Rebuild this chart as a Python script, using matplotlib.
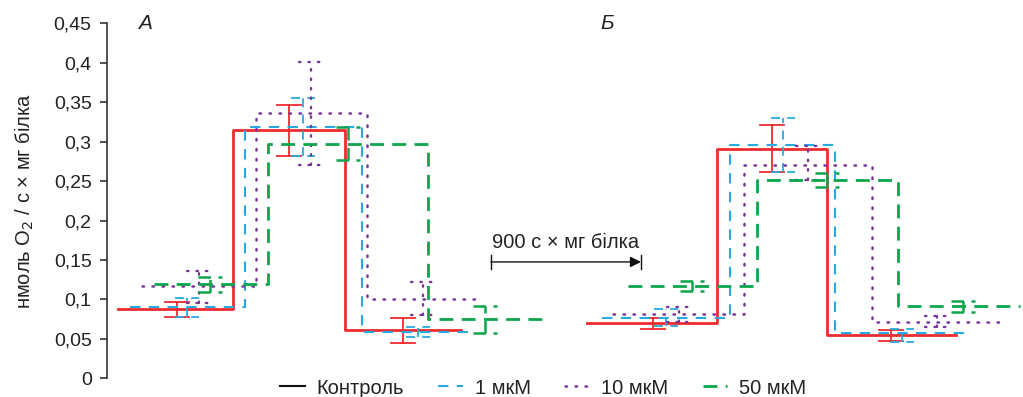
import numpy as np
import matplotlib
matplotlib.use("Agg")
import matplotlib.pyplot as plt
from matplotlib.lines import Line2D

plt.rcParams['font.family'] = ['Liberation Sans', 'DejaVu Sans']

# time, s (step points: start, rise, fall, end) and rates, nmol O2/s x mg
series = ['Контроль', '1 мкМ', '10 мкМ', '50 мкМ']

a_x = [[66, 756, 1428, 2124],
       [138, 828, 1530, 2208],
       [210, 894, 1560, 2250],
       [282, 966, 1926, 2616]]
a_y = [[0.088, 0.315, 0.061],
       [0.090, 0.319, 0.059],
       [0.117, 0.336, 0.101],
       [0.119, 0.297, 0.075]]
a_err_x = [[420, 1092, 1776],
           [480, 1176, 1866],
           [552, 1224, 1896],
           [618, 1446, 2268]]
a_err_lo = [[0.078, 0.282, 0.045],
            [0.078, 0.282, 0.052],
            [0.095, 0.270, 0.080],
            [0.109, 0.277, 0.057]]
a_err_hi = [[0.097, 0.347, 0.076],
            [0.102, 0.355, 0.065],
            [0.136, 0.401, 0.122],
            [0.129, 0.318, 0.092]]

b_x = [[2880, 3660, 4320, 5094],
       [2970, 3738, 4368, 5148],
       [3036, 3822, 4590, 5358],
       [3126, 3900, 4746, 5478]]
b_y = [[0.070, 0.291, 0.055],
       [0.077, 0.296, 0.057],
       [0.081, 0.271, 0.072],
       [0.117, 0.251, 0.092]]
b_err_x = [[3276, 3990, 4704],
           [3354, 4056, 4770],
           [3432, 4206, 4980],
           [3510, 4320, 5136]]
b_err_lo = [[0.063, 0.261, 0.047],
            [0.066, 0.262, 0.046],
            [0.071, 0.251, 0.065],
            [0.111, 0.242, 0.084]]
b_err_hi = [[0.076, 0.321, 0.061],
            [0.088, 0.330, 0.063],
            [0.091, 0.294, 0.079],
            [0.123, 0.260, 0.098]]

yticks = [0, 0.05, 0.1, 0.15, 0.2, 0.25, 0.3, 0.35, 0.4, 0.45]
scale_start, scale_len = 2304, 900

colors = ['#ee2b2e', '#27aae1', '#7a3598', '#0ca64b']
styles = [dict(ls='-', lw=2.0),
          dict(ls=(0, (5, 4)), lw=1.5),
          dict(ls=(0, (0.6, 3.4)), lw=1.8, dash_capstyle='round'),
          dict(ls=(0, (5, 3)), lw=2.0)]
err_lw = [1.3, 1.3, 1.7, 1.8]
cap = 72

fig = plt.figure(figsize=(10.23, 3.97), dpi=100)
ax = fig.add_axes([107 / 1023, 0.0471, 1 - 107 / 1023, 0.8942])


def draw_panel(xs, ys, ex, elo, ehi):
    for i in range(4):
        yy = list(ys[i]) + [ys[i][-1]]
        ax.plot(xs[i], yy, drawstyle='steps-post', color=colors[i],
                **styles[i], clip_on=False)
        st = dict(styles[i])
        st['lw'] = err_lw[i]
        for x, lo, hi in zip(ex[i], elo[i], ehi[i]):
            ax.plot([x, x], [lo, hi], color=colors[i], **st)
            ax.plot([x - cap, x + cap], [lo, lo], color=colors[i], **st)
            ax.plot([x - cap, x + cap], [hi, hi], color=colors[i], **st)


draw_panel(a_x, a_y, a_err_x, a_err_lo, a_err_hi)
draw_panel(b_x, b_y, b_err_x, b_err_lo, b_err_hi)

ax.set_xlim(0, 5496)
ax.set_ylim(0, 0.45)
ax.set_yticks(yticks)
ax.set_yticklabels([('%g' % v).replace('.', ',') for v in yticks],
                   fontsize=14, color='#222222')
ax.set_xticks([])
for s in ['top', 'right', 'bottom']:
    ax.spines[s].set_visible(False)
ax.spines['left'].set_color('#333333')
ax.spines['left'].set_linewidth(1.2)
ax.tick_params(axis='y', direction='out', length=5, width=1.2, color='#333333', pad=6)
ax.set_ylabel('нмоль O$_2$ / с × мг білка', fontsize=14.5, color='#222222')
ax.yaxis.set_label_coords(-0.0775, 0.5)

# scale bar
ys = 0.1475
ax.annotate('', xy=(scale_start + scale_len, ys), xytext=(scale_start, ys),
            arrowprops=dict(arrowstyle='-|>', color='#111111', lw=1.0,
                            mutation_scale=16, shrinkA=0, shrinkB=0))
ax.plot([scale_start, scale_start], [ys - 0.009, ys + 0.009], color='#111111', lw=1.0)
ax.plot([scale_start + scale_len] * 2, [ys - 0.009, ys + 0.009], color='#111111', lw=1.0)
ax.text(scale_start + scale_len / 2, ys + 0.012, '900 с × мг білка',
        ha='center', va='bottom', fontsize=14.5, color='#222222')

ax.text(228, 0.45, 'А', style='italic', fontsize=15, ha='center', va='center',
        color='#222222')
ax.text(3000, 0.45, 'Б', style='italic', fontsize=15, ha='center', va='center',
        color='#222222')

handles = [Line2D([], [], color='#111111', ls='-', lw=1.5)]
for i in range(1, 4):
    handles.append(Line2D([], [], color=colors[i], **styles[i]))
fig.legend(handles, series, loc='center', ncol=4, frameon=False,
           fontsize=14.5, handlelength=1.2, handletextpad=0.6,
           columnspacing=1.7, labelcolor='#222222',
           bbox_to_anchor=(0.531, 9 / 397))

fig.savefig('out.png', dpi=100)
